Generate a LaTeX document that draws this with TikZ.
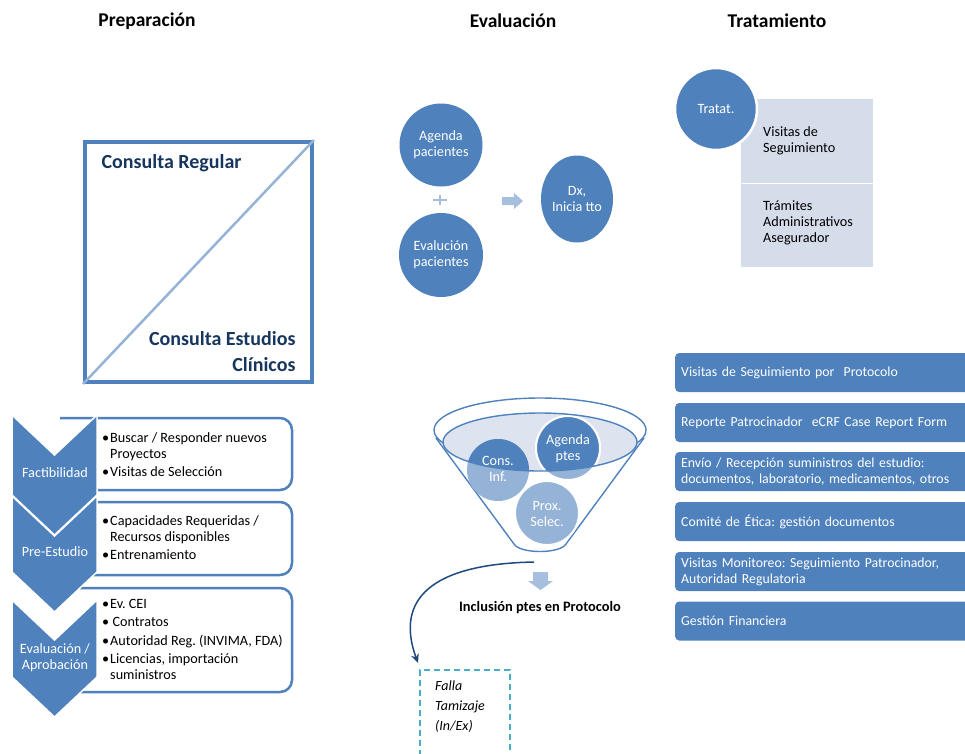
\documentclass[tikz,border=0pt]{standalone}
\usepackage{fontspec}
\setmainfont{Carlito}
\usetikzlibrary{arrows.meta,shapes.geometric}
\definecolor{mblue}{HTML}{4F81BD}
\definecolor{lblue}{HTML}{95B3D7}
\definecolor{pblue}{HTML}{A7BFDE}
\definecolor{navy}{HTML}{17365D}
\definecolor{pale}{HTML}{D5DCEA}
\definecolor{funfill}{HTML}{DDE4EF}
\definecolor{dblue}{HTML}{1F497D}
\definecolor{cyanb}{HTML}{4BACC6}
\newcommand{\bul}{\makebox[8pt][l]{•}}
\newcommand{\ind}{\hspace*{8pt}}
\frenchspacing
\begin{document}
\begin{tikzpicture}[x=1pt,y=-1pt,
  title/.style={font=\fontsize{19.5}{22}\selectfont\bfseries, text=black},
  body/.style={font=\fontsize{14.2}{16}\selectfont},
  circ/.style={circle, fill=mblue, text=white, align=center, inner sep=0pt, body},
  chev/.style={fill=mblue, draw=white, line width=1.5pt},
  wbox/.style={draw=mblue, fill=white, line width=2.5pt, rounded corners=12pt},
  rbox/.style={rectangle, fill=mblue, text=white, rounded corners=4pt, anchor=west, minimum height=39pt, text width=310pt, align=left, inner xsep=6pt, font=\fontsize{13.8}{16}\selectfont},
  sqtext/.style={font=\fontsize{20}{26}\selectfont\bfseries, text=navy}
]
\useasboundingbox (0,0) rectangle (965,753);

% titles
\node[title] (t1) at (147,21) {Preparación};
\node[title] (t2) at (513,21) {Evaluación};
\node[title] (t3) at (777,21) {Tratamiento};

% square
\node[draw=mblue, line width=4pt, minimum width=227pt, minimum height=240pt, inner sep=0pt] (sq) at (198.5,262) {};
\draw[lblue, line width=2.5pt] (sq.south west) -- (sq.north east);
\node[sqtext, anchor=west] (cr) at (98,163) {Consulta Regular};
\node[sqtext, anchor=east, align=right] (ce) at (299,352) {Consulta Estudios\\Clínicos};

% white boxes (left)
\draw[wbox] (60,418) -- (292,418) -- (292,490) -- (60,490);
\draw[wbox] (60,502) -- (292,502) -- (292,575) -- (60,575);
\draw[wbox] (60,588) -- (292,588) -- (292,692) -- (60,692);

% chevrons
\path[chev] (12,415) -- (54.5,455) -- (97,415) -- (97,495) -- (54.5,535) -- (12,495) -- cycle;
\path[chev] (12,496) -- (54.5,536) -- (97,496) -- (97,572) -- (54.5,612) -- (12,572) -- cycle;
\path[chev] (12,600) -- (54.5,640) -- (97,600) -- (97,677) -- (54.5,717) -- (12,677) -- cycle;
\node[body, text=white] (c1) at (55,473) {Factibilidad};
\node[body, text=white] (c2) at (55,552) {Pre-Estudio};
\node[body, text=white, align=center] (c3) at (55,658) {Evaluación /\\Aprobación};

% bullet texts
\node[body, anchor=north west, align=left, inner sep=0pt] (b1) at (102,432)
  {\bul Buscar / Responder nuevos\\\ind Proyectos\\[2.5pt]\bul Visitas de Selección};
\node[body, anchor=north west, align=left, inner sep=0pt] (b2) at (102,515)
  {\bul Capacidades Requeridas /\\\ind Recursos disponibles\\[2.5pt]\bul Entrenamiento};
\node[body, anchor=north west, align=left, inner sep=0pt] (b3) at (102,599)
  {\bul Ev. CEI\\[2.5pt]\bul \,Contratos\\[2.5pt]\bul Autoridad Reg. (INVIMA, FDA)\\[2.5pt]\bul Licencias, importación\\\ind suministros};

% evaluation circles
\node[circ, minimum size=83pt] (ag) at (441,145) {Agenda\\pacientes};
\node[circ, minimum size=84pt] (ev) at (441,255) {Evalución\\pacientes};
\coordinate (plus) at (440,200);
\draw[pblue, line width=2.6pt] ([xshift=-7pt]plus) -- ([xshift=7pt]plus);
\draw[pblue, line width=2.6pt] ([yshift=-5pt]plus) -- ([yshift=5pt]plus);
\node[ellipse, fill=mblue, text=white, align=center, minimum width=72pt, minimum height=87pt, inner sep=0pt, body] (dx) at (577,199) {Dx,\\Inicia tto};
\fill[pblue] (502,197) -- (514,197) -- (514,193) -- (523,201) -- (514,209) -- (514,205) -- (502,205) -- cycle;

% tratamiento
\node[fill=pale, minimum width=132pt, minimum height=84pt, inner sep=0pt] (vs) at (807,141) {};
\node[fill=pale, minimum width=132pt, minimum height=84pt, inner sep=0pt] (tr) at (807,225) {};
\draw[white, line width=0.8pt] (vs.south west) -- (vs.south east);
\node[body, anchor=west, align=left, inner sep=0pt] (vst) at (763,141) {Visitas de\\Seguimiento};
\node[body, anchor=west, align=left, inner sep=0pt] (trt) at (763,223) {Trámites\\Administrativos\\Asegurador};
\node[circ, minimum size=82pt, draw=white, line width=2.5pt] (tt) at (716,109) {Tratat.};

% funnel
\draw[mblue, line width=1.4pt] (540,430) ellipse[x radius=106, y radius=32];
\draw[mblue, line width=1.4pt] (436,438) -- (514,544) .. controls (520,554) and (560,554) .. (566,544) -- (644,438);
\fill[funfill] (540,442) ellipse[x radius=97, y radius=29];
\fill[lblue] (498,470) circle[radius=31];
\begin{scope}
  \clip (540,442) ellipse[x radius=97, y radius=29];
  \fill[mblue] (498,470) circle[radius=31];
\end{scope}
\filldraw[lblue, draw=white, line width=2pt] (568,448) circle[radius=32];
\begin{scope}
  \clip (540,442) ellipse[x radius=97, y radius=29];
  \filldraw[mblue, draw=white, line width=2pt] (568,448) circle[radius=32];
\end{scope}
\filldraw[lblue, draw=white, line width=2pt] (547,513) circle[radius=32];
\draw[mblue, line width=1.4pt] (540,442) ellipse[x radius=97, y radius=29];
\node[body, text=white, align=center] (ci) at (498,469) {Cons.\\Inf.};
\node[body, text=white, align=center] (ap) at (568,449) {Agenda\\ptes};
\node[body, text=white, align=center] (ps) at (547,514) {Prox.\\Selec.};

% down arrow
\fill[pblue] (533,572) -- (548,572) -- (548,581) -- (553,581) -- (540.5,590) -- (528,581) -- (533,581) -- cycle;
\node[font=\fontsize{14.4}{16}\selectfont\bfseries] (inc) at (540,608) {Inclusión ptes en Protocolo};

% falla box
\node[draw=cyanb, dashed, dash pattern=on 6pt off 4pt, line width=1.5pt, minimum width=90pt, minimum height=100pt, inner sep=0pt] (fal) at (465,720) {};
\node[font=\fontsize{14}{20}\selectfont\itshape, anchor=north west, align=left, inner sep=0pt] (falt) at (435,681) {Falla\\Tamizaje\\(In/Ex)};
\coordinate (fb) at (534,562);
\coordinate (fe) at (418,663);
\draw[dblue, line width=1.5pt, -{Stealth[length=9pt,width=8pt]}] (fb) .. controls (430,564) and (395,600) .. (fe);

% right boxes
\node[rbox] (r1) at (675,372.5) {Visitas de Seguimiento por~ Protocolo};
\node[rbox] (r2) at (675,422.5) {Reporte Patrocinador~ eCRF Case Report Form};
\node[rbox] (r3) at (675,471.5) {Envío / Recepción suministros del estudio:\\documentos, laboratorio, medicamentos, otros};
\node[rbox] (r4) at (675,521.5) {Comité de Ética: gestión documentos};
\node[rbox] (r5) at (675,571.5) {Visitas Monitoreo: Seguimiento Patrocinador,\\Autoridad Regulatoria};
\node[rbox] (r6) at (675,621) {Gestión Financiera};
\end{tikzpicture}
\end{document}
